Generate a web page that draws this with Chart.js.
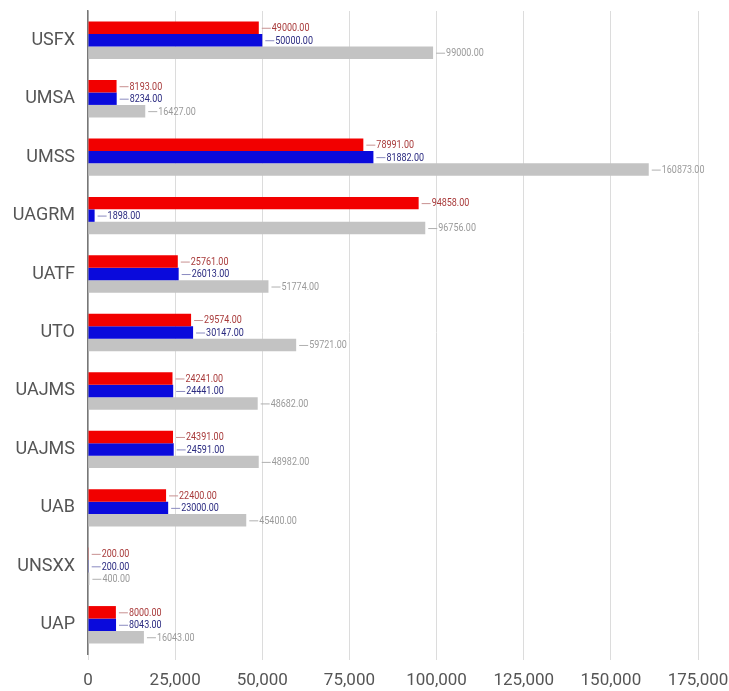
<!DOCTYPE html>
<html>
<head>
<meta charset="utf-8">
<script src="https://cdn.jsdelivr.net/npm/chart.js@4.4.0/dist/chart.umd.min.js"></script>
<style>
  html, body { margin: 0; padding: 0; background: #fff; }
  #wrap { width: 729px; height: 691px; }
</style>
</head>
<body>
<div id="wrap"><canvas id="myChart"></canvas></div>
<script>
// universities (UAJMS appears twice in the original)
const universities = ['USFX', 'UMSA', 'UMSS', 'UAGRM', 'UATF', 'UTO', 'UAJMS', 'UAJMS', 'UAB', 'UNSXX', 'UAP'];
const redValues = [49000, 8193, 78991, 94858, 25761, 29574, 24241, 24391, 22400, 200, 8000];
const blueValues = [50000, 8234, 81882, 1898, 26013, 30147, 24441, 24591, 23000, 200, 8043];
const grayValues = [99000, 16427, 160873, 96756, 51774, 59721, 48682, 48982, 45400, 400, 16043];
const xTicks = [0, 25000, 50000, 75000, 100000, 125000, 150000, 175000];

const fontFamily = "Roboto, 'Liberation Sans', sans-serif";

// draws the little leader line + value next to every bar
const valueLabels = {
  id: 'valueLabels',
  afterDatasetsDraw(chart) {
    const ctx = chart.ctx;
    chart.data.datasets.forEach((ds, i) => {
      const meta = chart.getDatasetMeta(i);
      meta.data.forEach((bar, j) => {
        const x = bar.x;
        const y = bar.y;
        ctx.save();
        ctx.strokeStyle = ds.lineColor;
        ctx.lineWidth = 1;
        ctx.beginPath();
        ctx.moveTo(x + 3, y + 0.5);
        ctx.lineTo(x + 12, y + 0.5);
        ctx.stroke();
        // squeeze the text a bit, the original uses a narrow font
        ctx.translate(x + 13, y + 0.5);
        ctx.scale(0.78, 1);
        ctx.font = '11.5px ' + fontFamily;
        ctx.textBaseline = 'middle';
        ctx.fillStyle = ds.textColor;
        ctx.fillText(ds.data[j].toFixed(2), 0, 0);
        ctx.restore();
      });
    });
  }
};

const ctx = document.getElementById('myChart');
new Chart(ctx, {
  type: 'bar',
  data: {
    labels: universities,
    datasets: [
      { data: redValues, backgroundColor: '#f20000', textColor: '#a83a3a', lineColor: '#c89090' },
      { data: blueValues, backgroundColor: '#0a0adc', textColor: '#2a2a80', lineColor: '#8a8ac0' },
      { data: grayValues, backgroundColor: '#c3c3c3', textColor: '#9a9a9a', lineColor: '#b0b0b0' }
    ]
  },
  options: {
    indexAxis: 'y',
    responsive: true,
    maintainAspectRatio: false,
    animation: false,
    datasets: {
      bar: { categoryPercentage: 0.64, barPercentage: 1.0 }
    },
    layout: { padding: { top: 11, right: 0, left: 0, bottom: 0 } },
    plugins: {
      legend: { display: false },
      tooltip: { enabled: false }
    },
    scales: {
      x: {
        min: 0,
        max: 175000,
        afterBuildTicks: (scale) => { scale.ticks = xTicks.map(v => ({ value: v })); },
        afterFit: (scale) => {
          scale.height = 37;
          scale.paddingLeft = 0;
          scale.paddingRight = 31;
        },
        grid: { color: '#dcdcdc', tickLength: 6, drawOnChartArea: true },
        border: { display: false },
        ticks: {
          padding: 11,
          color: '#555',
          font: { family: fontFamily, size: 17 },
          callback: (v) => v.toLocaleString('en-US')
        }
      },
      y: {
        afterFit: (scale) => {
          scale.width = 88;
          scale.paddingTop = 0;
          scale.paddingBottom = 0;
        },
        grid: { display: false, drawTicks: false },
        border: { display: true, color: '#777', width: 1.5 },
        ticks: {
          padding: 13,
          color: '#555',
          font: { family: fontFamily, size: 18 }
        }
      }
    }
  },
  plugins: [valueLabels]
});
</script>
</body>
</html>
